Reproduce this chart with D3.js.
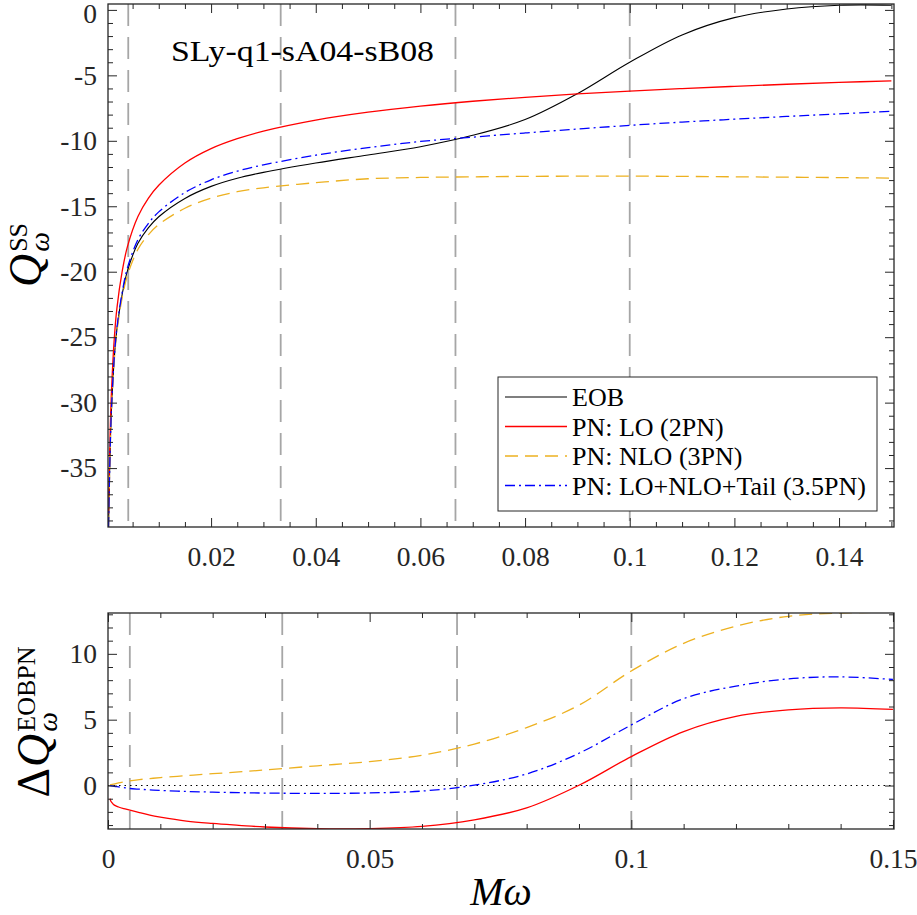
<!DOCTYPE html>
<html>
<head>
<meta charset="utf-8">
<script src="https://cdn.jsdelivr.net/npm/d3@7"></script>
<style>
  body { margin: 0; background: #fff; }
  svg text { font-family: "Liberation Serif", "Times New Roman", serif; fill: #262626; }
</style>
</head>
<body>
<svg id="chart" width="917" height="915"></svg>
<script>
// frequency grid (M omega)
const omega = [0.0004, 0.0005, 0.00075, 0.001, 0.0015, 0.002, 0.003, 0.004, 0.006, 0.008, 0.01,
  0.015, 0.02, 0.025, 0.03, 0.04, 0.05, 0.06, 0.07, 0.08, 0.09, 0.1, 0.11, 0.12, 0.13, 0.14, 0.15]

// top panel: Q_omega^SS
const qEOB  = [-39.5, -37.4, -33.0, -30.2, -26.6, -24.4, -21.75, -19.95, -17.85, -16.65, -15.8,
  -14.4, -13.48, -12.86, -12.41, -11.7, -11.08, -10.45, -9.58, -8.38, -6.4, -4.0, -1.91, -0.59, 0.07, 0.36, 0.36]
const qLO   = [-38.5, -36.2, -31.7, -28.8, -25.1, -22.8, -20.0, -18.1, -15.8, -14.4, -13.4,
  -11.7, -10.6, -9.84, -9.26, -8.42, -7.81, -7.35, -6.98, -6.68, -6.42, -6.2, -6.01, -5.84, -5.68, -5.54, -5.42]
const qNLO  = [-39.6, -37.45, -33.1, -30.3, -26.75, -24.6, -22.0, -20.3, -18.3, -17.18, -16.4,
  -15.15, -14.38, -13.89, -13.59, -13.2, -12.9, -12.8, -12.75, -12.72, -12.7, -12.7, -12.72, -12.75, -12.78, -12.81, -12.85]
const qTail = [-39.5, -37.4, -32.98, -30.15, -26.52, -24.3, -21.59, -19.73, -17.57, -16.32, -15.43,
  -13.95, -12.98, -12.32, -11.84, -11.1, -10.52, -10.05, -9.72, -9.4, -9.1, -8.82, -8.57, -8.35, -8.14, -7.94, -7.75]

// bottom panel: Delta Q_omega^EOBPN
const dLO   = [-1.0, -1.15, -1.3, -1.42, -1.55, -1.63, -1.75, -1.85, -2.05, -2.25, -2.4,
  -2.7, -2.88, -3.02, -3.15, -3.28, -3.27, -3.1, -2.6, -1.7, 0.02, 2.2, 4.1, 5.25, 5.75, 5.9, 5.78]
const dNLO  = [0.05, 0.06, 0.08, 0.1, 0.15, 0.2, 0.28, 0.35, 0.45, 0.53, 0.6,
  0.75, 0.9, 1.03, 1.18, 1.5, 1.82, 2.3, 3.15, 4.4, 6.1, 8.7, 10.8, 12.1, 12.85, 13.1, 13.15]
const dTail = [0.0, 0.0, -0.02, -0.05, -0.08, -0.1, -0.16, -0.22, -0.28, -0.33, -0.37,
  -0.45, -0.5, -0.54, -0.57, -0.6, -0.56, -0.42, 0.03, 0.88, 2.45, 4.6, 6.6, 7.55, 8.1, 8.25, 8.05]

// vertical reference lines
const refLines = [0.00417, 0.0333, 0.0667, 0.1]

// ticks
const topXTicks = [0.02, 0.04, 0.06, 0.08, 0.1, 0.12, 0.14]
const topYTicks = [-35, -30, -25, -20, -15, -10, -5, 0]
const botXTicks = [0, 0.05, 0.1, 0.15]
const botYTicks = [0, 5, 10]

const labels = ['EOB', 'PN: LO (2PN)', 'PN: NLO (3PN)', 'PN: LO+NLO+Tail (3.5PN)']
const title = 'SLy-q1-sA04-sB08'

const series = [
  { name: labels[0], top: qEOB, bot: null, color: '#000000', dash: null, w: 1.1 },
  { name: labels[1], top: qLO, bot: dLO, color: '#ff0000', dash: null, w: 1.3 },
  { name: labels[2], top: qNLO, bot: dNLO, color: '#edb120', dash: '13,7', w: 1.3 },
  { name: labels[3], top: qTail, bot: dTail, color: '#0000ff', dash: '10,4,2,4', w: 1.3 }
]

const svg = d3.select('#chart')

// scales
const xTop = d3.scaleLinear().domain([0.0003, 0.1505]).range([108, 894])
const yTop = d3.scaleLinear().domain([-39.5, 0.45]).range([527, 4])
const xBot = d3.scaleLinear().domain([0, 0.1502]).range([108, 894])
const yBot = d3.scaleLinear().domain([-3.3, 13.1]).range([829, 613])

function panel(id, x, y) {
  const [l, r] = x.range(), [b, t] = y.range()
  svg.append('clipPath').attr('id', id).append('rect')
    .attr('x', l).attr('y', t).attr('width', r - l).attr('height', b - t)
  return svg.append('g').attr('clip-path', `url(#${id})`)
}

function drawAxes(x, y, xMaj, xMin, yMaj, yMin) {
  const [l, r] = x.range(), [b, t] = y.range()
  const ax = svg.append('g').attr('color', '#262626')
  const none = () => ''
  const fx = d => String(+d.toFixed(3))
  const fy = d => String(d)
  const put = (axis, tx, ty, vals, size, fmt, pad) => {
    return ax.append('g').attr('transform', `translate(${tx},${ty})`)
      .call(axis.tickValues(vals).tickSizeInner(-size).tickSizeOuter(0).tickPadding(pad).tickFormat(fmt))
      .attr('font-size', 27.5)
      .attr('font-family', 'Liberation Serif, serif')
      .call(g => g.select('.domain').remove())
      .call(g => g.selectAll('.tick line').attr('stroke-width', 1))
  }
  put(d3.axisBottom(x), 0, b, xMaj, 9, fx, 19)
  put(d3.axisBottom(x), 0, b, xMin, 5, none, 0)
  put(d3.axisTop(x), 0, t, xMaj, 9, none, 0)
  put(d3.axisTop(x), 0, t, xMin, 5, none, 0)
  // keep a label sitting at the very top edge fully visible
  put(d3.axisLeft(y), l, 0, yMaj, 9, fy, 11)
    .selectAll('.tick text').attr('y', d => Math.max(0, t + 10 - y(d)))
  put(d3.axisLeft(y), l, 0, yMin, 5, none, 0)
  put(d3.axisRight(y), r, 0, yMaj, 9, none, 0)
  put(d3.axisRight(y), r, 0, yMin, 5, none, 0)
  svg.append('rect').attr('x', l).attr('y', t).attr('width', r - l).attr('height', b - t)
    .attr('fill', 'none').attr('stroke', '#262626').attr('stroke-width', 1.3)
}

function refs(g, x, y) {
  g.selectAll('.ref').data(refLines).join('line')
    .attr('x1', d => x(d)).attr('x2', d => x(d))
    .attr('y1', y.range()[1]).attr('y2', y.range()[0])
    .attr('stroke', '#a6a6a6').attr('stroke-width', 1.8).attr('stroke-dasharray', '22,11')
}

function curves(g, x, y, key) {
  const line = d3.line().x(d => x(d[0])).y(d => y(d[1])).curve(d3.curveCatmullRom.alpha(0.5))
  series.filter(s => s[key]).forEach(s => {
    g.append('path')
      .attr('d', line(omega.map((w, i) => [w, s[key][i]])))
      .attr('fill', 'none').attr('stroke', s.color).attr('stroke-width', s.w)
      .attr('stroke-dasharray', s.dash)
  })
}

// top panel
const gTop = panel('clipTop', xTop, yTop)
refs(gTop, xTop, yTop)
curves(gTop, xTop, yTop, 'top')
drawAxes(xTop, yTop, topXTicks, d3.range(1, 31).map(i => i * 0.005).filter(v => !topXTicks.some(t => Math.abs(t - v) < 1e-9)),
  topYTicks, d3.range(-39, 1).filter(v => v % 5 !== 0))

// bottom panel
const gBot = panel('clipBot', xBot, yBot)
refs(gBot, xBot, yBot)
gBot.append('line')
  .attr('x1', xBot.range()[0]).attr('x2', xBot.range()[1])
  .attr('y1', yBot(0)).attr('y2', yBot(0))
  .attr('stroke', '#000').attr('stroke-width', 1.1).attr('stroke-dasharray', '1.5,4')
curves(gBot, xBot, yBot, 'bot')
drawAxes(xBot, yBot, botXTicks, d3.range(1, 16).map(i => i * 0.01).filter(v => !botXTicks.some(t => Math.abs(t - v) < 1e-9)),
  botYTicks, d3.range(-3, 14).filter(v => v % 5 !== 0))

// title
svg.append('text').attr('x', 171).attr('y', 61).attr('font-size', 30)
  .attr('textLength', 263).attr('lengthAdjust', 'spacingAndGlyphs')
  .style('fill', '#000').text(title)

// legend
const lg = svg.append('g')
lg.append('rect').attr('x', 498).attr('y', 377).attr('width', 379).attr('height', 134)
  .attr('fill', '#fff').attr('stroke', '#262626').attr('stroke-width', 1)
series.forEach((s, i) => {
  const cy = 397 + i * 29.5
  lg.append('line').attr('x1', 505).attr('x2', 567).attr('y1', cy).attr('y2', cy)
    .attr('stroke', s.color).attr('stroke-width', s.w).attr('stroke-dasharray', s.dash)
  lg.append('text').attr('x', 572).attr('y', cy + 9).attr('font-size', 26)
    .style('fill', '#000').text(s.name)
})

// y labels
function ylab(bx, cy, pre, sup, sub) {
  const g = svg.append('g').attr('transform', `translate(${bx},${cy}) rotate(-90)`)
  let pos = 0
  if (pre) {
    const p = g.append('text').attr('x', 0).attr('font-size', 46).text(pre)
    pos += p.node().getComputedTextLength() + 1
  }
  const q = g.append('text').attr('x', pos).attr('font-size', 46).attr('font-style', 'italic').text('Q')
  pos += q.node().getComputedTextLength() + 2
  const s = g.append('text').attr('x', pos).attr('y', -14).attr('font-size', 26).text(sup)
  const w = g.append('text').attr('x', pos).attr('y', 8).attr('font-size', 28).attr('font-style', 'italic').text(sub)
  const total = pos + Math.max(s.node().getComputedTextLength(), w.node().getComputedTextLength())
  g.selectAll('text').attr('x', function () { return +this.getAttribute('x') - total / 2 })
  g.selectAll('text').style('fill', '#000')
}
ylab(41, 255, null, 'SS', 'ω')
ylab(49, 722, 'Δ', 'EOBPN', 'ω')

// x label
svg.append('text').attr('x', 501).attr('y', 905).attr('text-anchor', 'middle')
  .attr('font-size', 40).attr('font-style', 'italic').style('fill', '#000').text('Mω')
</script>
</body>
</html>
